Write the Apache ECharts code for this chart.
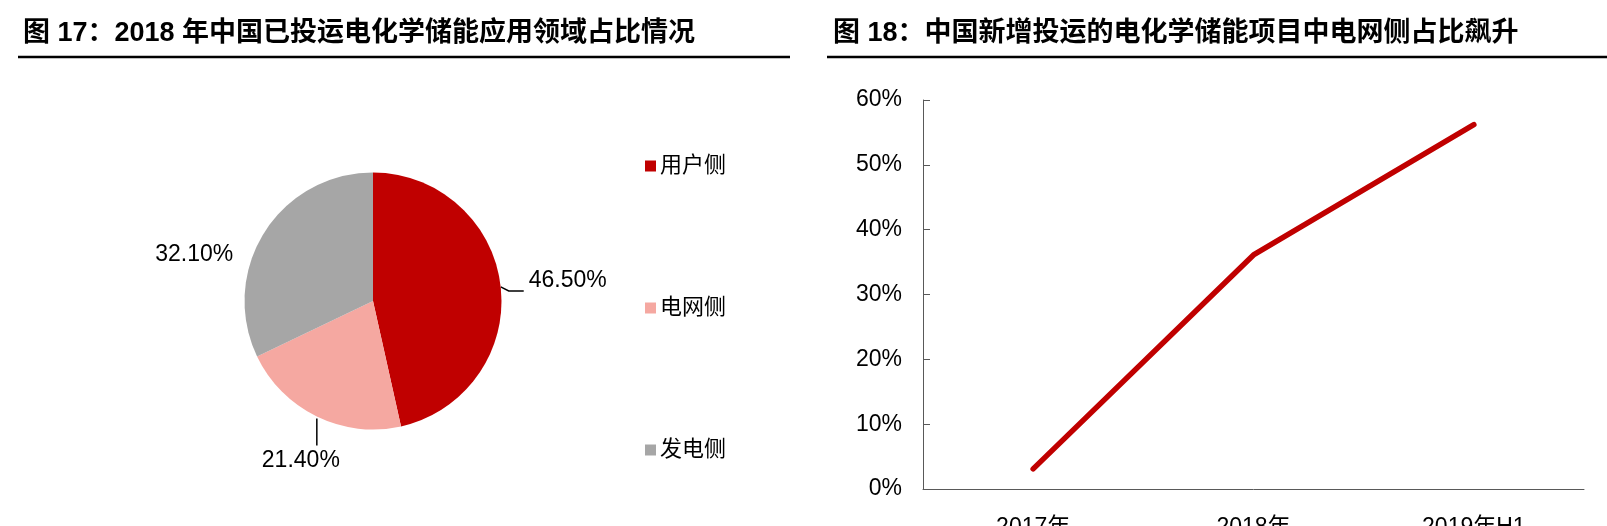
<!DOCTYPE html>
<html>
<head>
<meta charset="utf-8">
<script src="https://cdn.jsdelivr.net/npm/echarts@6/dist/echarts.min.js"></script>
<style>
    html, body {margin: 0; padding: 0; background: #fff;}
    #main {width: 1607px; height: 526px;}
</style>
</head>
<body>
<div id="main"></div>
<script>
// 图17 饼图数据
var pieNames = ['用户侧', '电网侧', '发电侧'];
var pieValues = [46.5, 21.4, 32.1];
var pieColors = ['#C00000', '#F5A8A1', '#A6A6A6'];
// 图18 折线数据
var lineCategories = ['2017年', '2018年', '2019年H1'];
var lineValues = [3.1, 36.1, 56.2];
var yTicks = [0, 10, 20, 30, 40, 50, 60];

var fontEn = '"Liberation Sans", Arial, "Noto Sans CJK SC", sans-serif';
var axisColor = '#595959';

var myChart = echarts.init(document.getElementById('main'));

// 饼图标签位置, 以库给出的引线起点为基准
function pieLabelLayout(params) {
    var p = params.labelLinePoints;
    if (!p) return {};
    var x0 = p[0][0], y0 = p[0][1];
    if (params.dataIndex == 0) {
        return {
            x: x0 + 28, y: y0 - 6, align: 'left', verticalAlign: 'middle',
            labelLinePoints: [[x0, y0], [x0 + 8, y0 + 4], [x0 + 23, y0 + 4]]
        };
    } else if (params.dataIndex == 1) {
        return {
            x: x0 - 16, y: y0 + 44, align: 'center', verticalAlign: 'middle',
            labelLinePoints: [[x0, y0 + 2], [x0, y0 + 15], [x0, y0 + 29]]
        };
    }
    return {x: x0 - 31, y: y0 + 22, align: 'right', verticalAlign: 'middle'};
}

var pieData = [];
for (var i = 0; i < pieNames.length; i++) {
    pieData.push({
        name: pieNames[i],
        value: pieValues[i],
        itemStyle: {color: pieColors[i]},
        labelLine: {show: i != 2}
    });
}

var option = {
    animation: false,
    title: [
        {text: '图 17：2018 年中国已投运电化学储能应用领域占比情况', left: 18, top: 15,
            textStyle: {fontSize: 27, fontWeight: 'bold', color: '#000', fontFamily: fontEn}},
        {text: '图 18：中国新增投运的电化学储能项目中电网侧占比飙升', left: 828, top: 15,
            textStyle: {fontSize: 27, fontWeight: 'bold', color: '#000', fontFamily: fontEn}}
    ],
    graphic: [
        {type: 'line', shape: {x1: 18, y1: 57, x2: 790, y2: 57}, style: {stroke: '#000', lineWidth: 2.5}},
        {type: 'line', shape: {x1: 827, y1: 57, x2: 1607, y2: 57}, style: {stroke: '#000', lineWidth: 2.5}}
    ],
    legend: {
        data: pieNames,
        orient: 'vertical',
        left: 640,
        top: 149,
        padding: 5,
        icon: 'rect',
        itemWidth: 11,
        itemHeight: 11,
        itemGap: 118,
        textStyle: {fontSize: 22, color: '#000', lineHeight: 24, fontFamily: fontEn, padding: [0, 0, 0, -1]}
    },
    grid: {left: 923, right: 23, top: 100, bottom: 37, outerBoundsMode: 'none', containLabel: false},
    xAxis: {
        type: 'category',
        data: lineCategories,
        axisLine: {lineStyle: {color: axisColor, width: 1}},
        axisTick: {inside: true, length: 7, lineStyle: {color: axisColor}},
        axisLabel: {margin: 27, fontSize: 23, color: '#000', fontFamily: fontEn},
        splitLine: {show: false}
    },
    yAxis: {
        type: 'value',
        min: yTicks[0],
        max: yTicks[yTicks.length - 1],
        interval: 10,
        axisLine: {show: true, lineStyle: {color: axisColor, width: 1}},
        axisTick: {show: true, inside: true, length: 7, lineStyle: {color: axisColor}},
        axisLabel: {margin: 21, fontSize: 23, color: '#000', fontFamily: fontEn,
            formatter: function (v) { return v + '%'; }},
        splitLine: {show: false}
    },
    series: [
        {
            type: 'pie',
            center: [373, 301],
            radius: 128.5,
            startAngle: 90,
            clockwise: true,
            data: pieData,
            label: {
                show: true,
                position: 'outside',
                fontSize: 23,
                color: '#000',
                fontFamily: fontEn,
                formatter: function (p) { return p.value.toFixed(2) + '%'; }
            },
            labelLine: {show: true, length: 10, length2: 15, lineStyle: {color: '#000', width: 1.5}},
            labelLayout: pieLabelLayout,
            emphasis: {disabled: true}
        },
        {
            type: 'line',
            data: lineValues,
            symbol: 'none',
            lineStyle: {color: '#C00000', width: 5.5, cap: 'round', join: 'round'}
        }
    ]
};
myChart.setOption(option);
</script>
</body>
</html>
